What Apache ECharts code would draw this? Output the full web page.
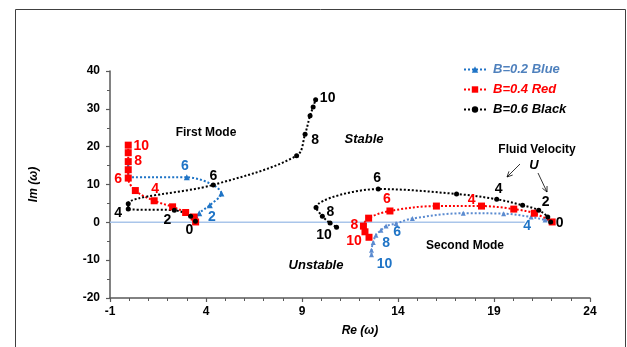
<!DOCTYPE html>
<html>
<head>
<meta charset="utf-8">
<script src="https://cdn.jsdelivr.net/npm/echarts@6/dist/echarts.min.js"></script>
<style>html,body{margin:0;padding:0;background:#fff;}#c{width:627px;height:347px;}</style>
</head>
<body>
<div id="c"></div>
<script>
// ---------- DATA ----------
const xTicks = [-1, 24, 5];   // min, max, interval
const yTicks = [-20, 40, 10];

const blueFirst  = [[3.45,0.1],[3.65,2.4],[4.2,4.5],[4.8,7.6],[3.0,11.9],[-0.05,11.9],[-0.05,14.6]];
const blueFirstLbl = ['', '', '2', '', '6', '', ''];
const blueSecond = [[22.0,0.0],[21.66,0.6],[20.93,1.4],[19.5,2.3],[17.4,2.4],[14.75,1.0],[13.9,-0.3],[13.38,-1.0],[13.11,-2.1],[12.85,-3.4],[12.71,-5.3],[12.62,-7.4],[12.62,-8.6]];
const blueSecondLbl = ['', '', '4', '', '', '', '', '6', '', '', '8', '', '10'];

const redFirst  = [[3.46,0.1],[3.38,1.4],[2.94,2.6],[2.26,4.1],[1.3,5.7],[0.32,8.4],[-0.05,11.7],[-0.05,13.9],[-0.05,16.05],[-0.05,18.4],[-0.05,20.4]];
const redFirstLbl = ['', '', '', '', '4', '', '6', '', '8', '', '10'];
const redSecond = [[22.03,0.1],[21.1,2.4],[20.03,3.5],[18.35,4.3],[16.0,4.3],[13.58,3.0],[12.47,1.1],[12.2,-1.0],[12.28,-2.5],[12.49,-3.95]];
const redSecondLbl = ['', '', '', '4', '', '6', '', '8', '', '10'];

const blackFirst  = [[3.45,0.3],[3.2,1.6],[2.35,3.2],[-0.05,3.5],[-0.05,4.9],[4.38,9.9],[8.72,17.6],[9.16,23.3],[9.42,28.2],[9.58,30.5],[9.71,32.4]];
const blackFirstLbl = ['0', '', '2', '4', '', '6', '', '8', '', '', '10'];
const blackSecond = [[21.95,0.1],[21.8,1.4],[21.33,3.2],[20.49,4.5],[19.14,6.1],[17.05,7.5],[12.97,8.8],[9.73,3.9],[10.06,1.6],[10.46,-0.2],[10.8,-1.3]];
const blackSecondLbl = ['0', '', '2', '', '4', '', '6', '', '8', '10', ''];

const zeroLine = [[-1,0],[20.6,0]];
const legendNames = ['B=0.2 Blue', 'B=0.4 Red', 'B=0.6 Black'];

// ---------- STYLE ----------
const FONT = 'Liberation Sans, Arial, sans-serif';
const C_BLUE = '#1f74c6', C_BLUE2 = '#5b8bd0', C_RED = '#ff0000', C_BLACK = '#000000';
const offs = {
  blueFirst:  {2:[2,12], 4:[-2,-11]},
  blueSecond: {2:[-4,9], 7:[11,6], 10:[13,1], 12:[13,9]},
  redFirst:   {4:[1,-12], 6:[-10,1], 8:[10,0], 10:[13,1]},
  redSecond:  {3:[-10,-6], 5:[-3,-12], 7:[-9,-1], 9:[-15,4]},
  blackFirst: {0:[-6,9], 2:[-7,10], 3:[-10,4], 5:[0,-9], 7:[10,6], 10:[12,-2]},
  blackSecond:{0:[9,1], 2:[7,-8], 4:[2,-10], 6:[-1,-11], 8:[8,-4], 9:[-6,12]}
};

function build(vals, lbls, key, color) {
  return vals.map((v, i) => {
    const t = lbls[i];
    if (!t) return { value: v };
    return { value: v, label: { show: true, position: 'inside', formatter: t, offset: offs[key][i] || [0,0],
      color: color, fontSize: 14, fontWeight: 'bold', fontFamily: FONT } };
  });
}

function mk(name, vals, lbls, key, color, symbol, size, lblColor) {
  return {
    name: name, type: 'line', smooth: 0.35, data: build(vals, lbls, key, lblColor || color),
    symbol: symbol, symbolSize: size,
    itemStyle: { color: color }, lineStyle: { color: color, width: 2, type: 'dotted' },
    label: { show: false }, emphasis: { disabled: true }, z: 3
  };
}

const chart = echarts.init(document.getElementById('c'), null, { renderer: 'canvas' });

function arrow(x1, y1, x2, y2) {
  const dx = x2 - x1, dy = y2 - y1, L = Math.hypot(dx, dy), ux = dx / L, uy = dy / L;
  const a = 0.45, h = 6;
  const p1 = [x2 - h * (ux * Math.cos(a) - uy * Math.sin(a)), y2 - h * (uy * Math.cos(a) + ux * Math.sin(a))];
  const p2 = [x2 - h * (ux * Math.cos(a) + uy * Math.sin(a)), y2 - h * (uy * Math.cos(a) - ux * Math.sin(a))];
  return [
    { type: 'line', shape: { x1: x1, y1: y1, x2: x2, y2: y2 }, style: { stroke: '#000', lineWidth: 0.8 } },
    { type: 'polyline', shape: { points: [p1, [x2, y2], p2] }, style: { stroke: '#000', lineWidth: 0.8, fill: null } }
  ];
}

function txt(x, y, s, size, italic) {
  return { type: 'text', x: x, y: y, style: { text: s, fill: '#000', font: (italic ? 'italic ' : '') + 'bold ' + size + 'px ' + FONT,
    textAlign: 'center', textVerticalAlign: 'middle' } };
}

const option = {
  animation: false,
  backgroundColor: '#fff',
  grid: { left: 110, right: 37, top: 71, bottom: 49, containLabel: false },
  legend: {
    orient: 'vertical', left: 458, top: 58, itemWidth: 22, itemHeight: 8, itemGap: 7,
    data: [
      { name: legendNames[0], textStyle: { color: '#4f81bd' } },
      { name: legendNames[1], textStyle: { color: C_RED } },
      { name: legendNames[2], textStyle: { color: C_BLACK } }
    ],
    textStyle: { fontStyle: 'italic', fontWeight: 'bold', fontSize: 13, fontFamily: FONT, padding: [0,0,0,2] },
    selectedMode: false
  },
  xAxis: {
    type: 'value', min: xTicks[0], max: xTicks[1], interval: xTicks[2],
    name: 'Re (ω)', nameLocation: 'middle', nameGap: 27,
    nameTextStyle: { fontStyle: 'italic', fontWeight: 'bold', fontSize: 12, fontFamily: FONT, color: '#000', padding: [0,0,0,20] },
    axisLine: { onZero: false, lineStyle: { color: '#595959', width: 1.5 } },
    axisTick: { show: true, length: 4, lineStyle: { color: '#595959', width: 1.2 } },
    minorTick: { show: true, splitNumber: 5, length: 3, lineStyle: { color: '#595959', width: 1 } },
    splitLine: { show: false },
    axisLabel: { margin: 8, color: '#000', fontWeight: 'bold', fontSize: 12, fontFamily: FONT }
  },
  yAxis: {
    type: 'value', min: yTicks[0], max: yTicks[1], interval: yTicks[2],
    name: 'Im (ω)', nameLocation: 'middle', nameGap: 70, nameRotate: 90,
    nameTextStyle: { fontStyle: 'italic', fontWeight: 'bold', fontSize: 12, fontFamily: FONT, color: '#000' },
    axisLine: { show: true, onZero: false, lineStyle: { color: '#595959', width: 1.5 } },
    axisTick: { show: true, length: 4, lineStyle: { color: '#595959', width: 1.2 } },
    minorTick: { show: true, splitNumber: 2, length: 3, lineStyle: { color: '#595959', width: 1 } },
    splitLine: { show: false },
    axisLabel: { margin: 10, color: '#000', fontWeight: 'bold', fontSize: 12, fontFamily: FONT }
  },
  series: [
    { name: 'zero', type: 'line', data: zeroLine, symbol: 'none', silent: true,
      lineStyle: { color: '#a9c5ea', width: 1.5 }, z: 1 },
    mk(legendNames[0], blueFirst, blueFirstLbl, 'blueFirst', C_BLUE, 'triangle', 6),
    mk(legendNames[0], blueSecond, blueSecondLbl, 'blueSecond', C_BLUE2, 'triangle', 5, C_BLUE),
    mk(legendNames[1], redFirst, redFirstLbl, 'redFirst', C_RED, 'rect', 7),
    mk(legendNames[1], redSecond, redSecondLbl, 'redSecond', C_RED, 'rect', 7),
    mk(legendNames[2], blackFirst, blackFirstLbl, 'blackFirst', C_BLACK, 'circle', 5),
    mk(legendNames[2], blackSecond, blackSecondLbl, 'blackSecond', C_BLACK, 'circle', 5)
  ],
  graphic: [
    { type: 'rect', shape: { x: 15.5, y: 9.5, width: 610, height: 400 }, style: { stroke: '#404040', lineWidth: 1, fill: null }, z: -1 },
    txt(206, 133, 'First Mode', 12, false),
    txt(364, 139, 'Stable', 13, true),
    txt(316, 265, 'Unstable', 13, true),
    txt(465, 246, 'Second Mode', 12, false),
    txt(537, 150, 'Fluid Velocity', 12, false),
    txt(534, 165, 'U', 13, true)
  ].concat(arrow(520, 164, 507, 177), arrow(538, 173, 547, 192))
};
chart.setOption(option);
</script>
</body>
</html>
